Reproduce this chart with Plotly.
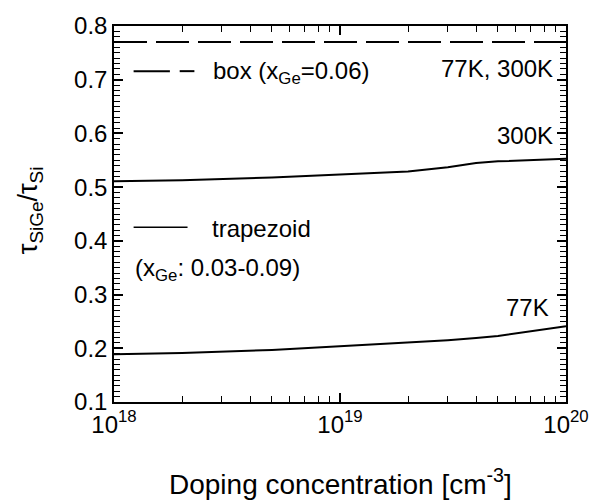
import plotly.graph_objects as go

doping = [1e18, 2e18, 5e18, 1e19, 2e19, 3e19, 4e19, 5e19, 1e20]
box_ratio = [0.77, 0.77, 0.77, 0.77, 0.77, 0.77, 0.77, 0.77, 0.77]
trap_300K = [0.511, 0.513, 0.518, 0.524, 0.529, 0.537, 0.545, 0.548, 0.553]
trap_77K = [0.189, 0.191, 0.197, 0.204, 0.210, 0.215, 0.219, 0.223, 0.241]

x_tickvals = [1e18, 1e19, 1e20]
x_ticktext = ["10<sup>18</sup>", "10<sup>19</sup>", "10<sup>20</sup>"]

FONT = "Liberation Sans, Arial, sans-serif"

fig = go.Figure()
fig.add_trace(go.Scatter(x=doping, y=box_ratio, mode="lines",
                         line=dict(color="black", width=2, dash="33px,9px")))
fig.add_trace(go.Scatter(x=doping, y=trap_300K, mode="lines",
                         line=dict(color="black", width=2)))
fig.add_trace(go.Scatter(x=doping, y=trap_77K, mode="lines",
                         line=dict(color="black", width=2)))

plot_l, plot_r, plot_t, plot_b = 114, 575, 19, 402
W, H = 601, 504
def px(xp): return (xp - plot_l) / (plot_r - plot_l)
def py(yp): return (plot_b - yp) / (plot_b - plot_t)

# legend samples
fig.add_shape(type="line", xref="paper", yref="paper", x0=px(134), x1=px(171), y0=py(65), y1=py(65),
              line=dict(color="black", width=2))
fig.add_shape(type="line", xref="paper", yref="paper", x0=px(181), x1=px(196), y0=py(65), y1=py(65),
              line=dict(color="black", width=2))
fig.add_shape(type="line", xref="paper", yref="paper", x0=px(134), x1=px(189), y0=py(224), y1=py(224),
              line=dict(color="black", width=1.5))

ann = dict(font=dict(family=FONT, size=24, color="black"), showarrow=False, xref="paper", yref="paper")
fig.add_annotation(text="box (x<sub>Ge</sub>=0.06)", x=px(213), y=py(66), xanchor="left", yanchor="middle", **ann)
fig.add_annotation(text="trapezoid", x=px(212), y=py(225), xanchor="left", yanchor="middle", **ann)
fig.add_annotation(text="(x<sub>Ge</sub>: 0.03-0.09)", x=px(133), y=py(267), xanchor="left", yanchor="middle", **ann)
fig.add_annotation(text="77K, 300K", x=px(564), y=py(62), xanchor="right", yanchor="middle", **ann)
fig.add_annotation(text="300K", x=px(564), y=py(131), xanchor="right", yanchor="middle", **ann)
fig.add_annotation(text="77K", x=px(560), y=py(306), xanchor="right", yanchor="middle", **ann)

# axis titles
fig.add_annotation(text="Doping concentration [cm<sup>-3</sup>]", x=0.5, y=py(483),
                   xanchor="center", yanchor="middle", showarrow=False, xref="paper", yref="paper",
                   font=dict(family=FONT, size=28, color="black"))
fig.add_annotation(text="τ<sub>SiGe</sub>/τ<sub>Si</sub>", x=px(28), y=py(207), textangle=-90,
                   xanchor="center", yanchor="middle", showarrow=False, xref="paper", yref="paper",
                   font=dict(family=FONT, size=27, color="black"))

tc = dict(showgrid=False, zeroline=False, showline=True, linecolor="black", linewidth=1.5,
          ticks="inside", tickcolor="black", tickwidth=1.5, ticklen=9, mirror="allticks")

fig.update_xaxes(type="log", range=[18, 20], tickvals=x_tickvals, ticktext=x_ticktext,
                 minor=dict(dtick="D1", ticks="inside", ticklen=6, tickcolor="black", tickwidth=1.2),
                 **tc)
fig.update_yaxes(range=[0.1, 0.8], dtick=0.1,
                 minor=dict(dtick=0.01, ticks="inside", ticklen=6, tickcolor="black", tickwidth=1.2),
                 **tc)

fig.update_layout(width=W, height=H, margin=dict(l=plot_l, r=W - plot_r, t=plot_t, b=H - plot_b),
                  font=dict(family=FONT, size=24, color="black"),
                  paper_bgcolor="white", plot_bgcolor="white", showlegend=False)

fig.write_html("out.html")
